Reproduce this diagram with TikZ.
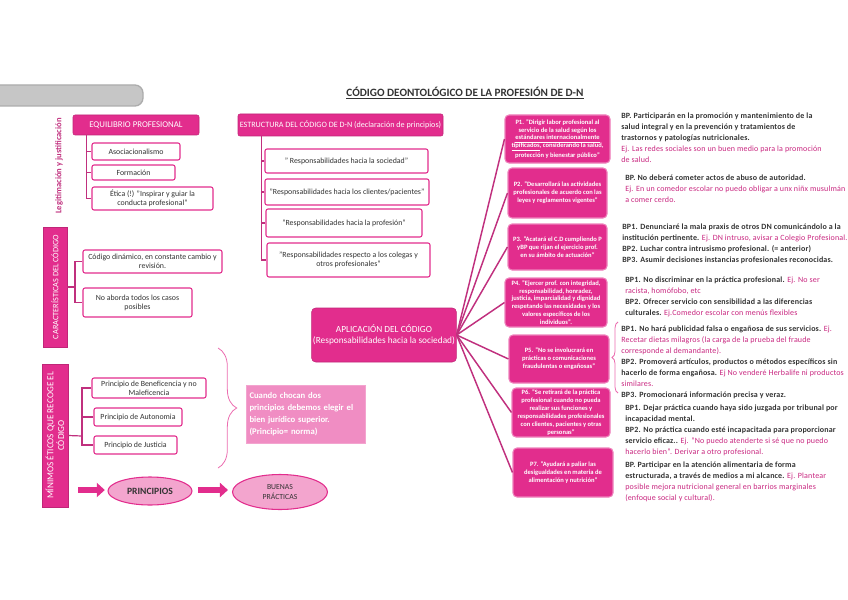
\documentclass[tikz,border=0pt]{standalone}
\usepackage{fontspec}
\setmainfont{Carlito}
\usepackage{tikz}
\usetikzlibrary{shapes.geometric,arrows.meta,decorations.pathreplacing,positioning}
\definecolor{rosa}{HTML}{E22D8D}
\definecolor{rosaosc}{HTML}{C0307E}
\definecolor{rosasuave}{HTML}{F08DC3}
\definecolor{rosaelipse}{HTML}{F3A5CE}
\definecolor{gristexto}{HTML}{333333}
\definecolor{ejrosa}{HTML}{C8267F}
\newcommand{\fs}[2]{\fontsize{#1}{#2}\selectfont}
\newcommand{\ejtxt}[1]{{\mdseries\color{ejrosa}#1}}
\tikzset{sz/.style 2 args={minimum width=#1*0.75pt, minimum height=#2*0.75pt}}

\begin{document}
\begin{tikzpicture}[x=0.75pt,y=-0.75pt]
\tikzstyle{head}=[rectangle, rounded corners=1.5pt, fill=rosa, draw=rosa!85!black, text=white, inner sep=1pt, font=\fs{6.1}{7}]
\tikzstyle{barra}=[head, rounded corners=0pt, align=center, font=\fs{6.2}{7.5}]
\tikzstyle{item}=[rectangle, rounded corners=1.5pt, draw=rosa, thick, fill=white, inner sep=1pt, align=center, text=gristexto, font=\fs{5.9}{6.8}]
\tikzstyle{pbox}=[rectangle, rounded corners=3pt, fill=rosa, draw=rosa!60, thick, text=white, inner sep=1pt, align=center, font=\fs{4.9}{5.9}\bfseries]
\tikzstyle{suave}=[rectangle, fill=rosasuave, draw=rosasuave!80, text=white, inner sep=1pt, align=left, font=\fs{6.5}{9}\bfseries]
\tikzstyle{elipse}=[ellipse, draw=rosa, fill=rosaelipse, thick, inner sep=0pt, align=center, text=gristexto]
\tikzstyle{nota}=[anchor=north west, align=left, inner sep=0pt, text=gristexto, font=\fs{6}{8.25}\bfseries\addfontfeatures{LetterSpace=2}]
\tikzstyle{rama}=[draw=rosaosc, line width=0.9pt]
\tikzstyle{abanico}=[draw=rosaosc, line width=1.1pt]
\tikzstyle{llave}=[draw=rosa!70, line width=0.6pt]
\tikzstyle{flecha}=[draw=rosa, line width=4.5pt, -{Triangle[length=6pt, width=10.5pt]}]

\useasboundingbox (0,0) rectangle (848,599);

  % barra gris y titulo
  \draw[fill=gray!45, draw=gray!65, line width=1pt, rounded corners=6pt] (-10,85) rectangle (143,106);
  \node[text=gristexto, font=\fs{8.4}{9}\bfseries] (titulo) at (465,93) {\underline{CÓDIGO DEONTOLÓGICO DE LA PROFESIÓN DE D-N}};

  % equilibrio profesional
  \node[rotate=90, text=rosaosc, font=\fs{6.4}{7}\bfseries] (legit) at (59,166) {Legitimación y justificación};
  \node[head, sz={126}{20}, font=\fs{6.6}{7}] (equil) at (136,125) {EQUILIBRIO PROFESIONAL};
  \node[item, sz={88}{17}]  (asoc)  at (136,151.5) {Asociacionalismo};
  \node[item, sz={83}{15}]  (form)  at (133.5,172.5) {Formación};
  \node[item, sz={121}{23}] (etica) at (152.5,198.5) {Ética (!) "Inspirar y guiar la\\ conducta profesional"};

  % estructura del codigo
  \node[head, sz={205}{22}] (estr) at (340.5,125) {ESTRUCTURA DEL CÓDIGO DE D-N (declaración de principios)};
  \node[item, sz={163}{24}] (r1) at (346.5,161) {" Responsabilidades hacia la sociedad"};
  \node[item, sz={164}{26}] (r2) at (347,192)   {"Responsabilidades hacia los clientes/pacientes"};
  \node[item, sz={156}{28}] (r3) at (344,223)   {"Responsabilidades hacia la profesión"};
  \node[item, sz={163}{34}] (r4) at (348.5,260) {"Responsabilidades respecto a los colegas y\\ otros profesionales"};

  % caracteristicas
  \node[barra, rotate=90, sz={120}{24}] (carac) at (55,287) {CARACTERÍSTICAS DEL CÓDIGO};
  \node[item, sz={139}{23}] (din)  at (152.5,261.5) {Código dinámico, en constante cambio y\\ revisión.};
  \node[item, sz={109}{29}] (noab) at (137.5,302.5) {No aborda todos los casos\\ posibles};

  % minimos eticos
  \node[barra, rotate=90, sz={143}{26}, font=\fs{6.9}{8}] (minim) at (55,435.5) {MÍNIMOS ÉTICOS QUE RECOGE EL\\ CÓDIGO};
  \node[item, sz={114}{20}] (benef) at (149,388)   {Principio de Beneficencia y no\\ Maleficencia};
  \node[item, sz={88}{18}]  (auton) at (138,417)   {Principio de Autonomia};
  \node[item, sz={83}{18}]  (just)  at (135.5,445) {Principio de Justicia};

  \node[suave, sz={119}{58}, text width=112*0.75pt] (choque) at (305.5,414) {Cuando chocan dos\\ principios debemos elegir el\\ bien jurídico superior.\\ (Principio= norma)};

  \node[elipse, sz={84}{28}, font=\fs{7.2}{8}\bfseries] (princ)  at (150,491) {PRINCIPIOS};
  \node[elipse, sz={95}{35}, font=\fs{5.8}{7.5}]       (buenas) at (280,492) {BUENAS\\ PRÁCTICAS};

  % aplicacion y principios P1-P7
  \node[head, sz={144}{54}, align=center, rounded corners=3pt, font=\fs{7}{8.5}] (aplic) at (384,335) {APLICACIÓN DEL CÓDIGO\\ (Responsabilidades hacia la sociedad)};

  \node[pbox, sz={105}{48}] (p1) at (557.5,139) {P1. "Dirigir labor profesional al\\ servicio de la salud según los\\ \underline{estándares internacionalmente}\\ \underline{tipificados}, considerando la salud,\\ protección y bienestar público"};
  \node[pbox, sz={99}{50}]  (p2) at (557.5,193) {P2. "Desarrollará las actividades\\ profesionales de acuerdo con las\\ leyes y reglamentos vigentes"};
  \node[pbox, sz={99}{46}]  (p3) at (557.5,247) {P3. "Acatará el C.D cumpliendo P\\ yBP que rijan el ejercicio prof.\\ en su ámbito de actuación"};
  \node[pbox, sz={102}{49}] (p4) at (556,302.5) {P4. "Ejercer prof. con integridad,\\ responsabilidad, honradez,\\ justicia, imparcialidad y dignidad\\ respetando las necesidades y los\\ valores específicos de los\\ individuos".};
  \node[pbox, sz={100}{48}] (p5) at (559,359)   {P5. "No se involucrará en\\ prácticas o comunicaciones\\ fraudulentas o engañosas"};
  \node[pbox, sz={98}{49}]  (p6) at (561,412.5) {P6. "Se retirará de la práctica\\ profesional cuando no pueda\\ realizar sus funciones y\\ responsabilidades profesionales\\ con clientes, pacientes y otras\\ personas"};
  \node[pbox, sz={100}{49}] (p7) at (563,472.5) {P7. "Ayudará a paliar las\\ desigualdades en materia de\\ alimentación y nutrición"};

  % buenas practicas
  \node[nota] (n1) at (621,113) {BP. Participarán en la promoción y mantenimiento de la\\ salud integral y en la prevención y tratamientos de\\ trastornos y patologías nutricionales.\\ \ejtxt{Ej. Las redes sociales son un buen medio para la promoción}\\ \ejtxt{de salud.}};
  \node[nota] (n2) at (625,175) {BP. No deberá cometer actos de abuso de autoridad.\\ \ejtxt{Ej. En un comedor escolar no puedo obligar a unx niñx musulmán}\\ \ejtxt{a comer cerdo.}};
  \node[nota] (n3) at (622,224) {BP1. Denunciaré la mala praxis de otros DN comunicándolo a la\\ institución pertinente. \ejtxt{Ej. DN intruso, avisar a Colegio Profesional.}\\ BP2. Luchar contra intrusismo profesional. (= anterior)\\ BP3. Asumir decisiones instancias profesionales reconocidas.};
  \node[nota] (n4) at (625,277) {BP1. No discriminar en la práctica profesional. \ejtxt{Ej. No ser}\\ \ejtxt{racista, homófobo, etc}\\ BP2. Ofrecer servicio con sensibilidad a las diferencias\\ culturales. \ejtxt{Ej.Comedor escolar con menús flexibles}};
  \node[nota] (n5) at (621,326) {BP1. No hará publicidad falsa o engañosa de sus servicios. \ejtxt{Ej.}\\ \ejtxt{Recetar dietas milagros (la carga de la prueba del fraude}\\ \ejtxt{corresponde al demandante).}\\ BP2. Promoverá artículos, productos o métodos específicos sin\\ hacerlo de forma engañosa. \ejtxt{Ej No venderé Herbalife ni productos}\\ \ejtxt{similares.}\\ BP3. Promocionará información precisa y veraz.};
  \node[nota] (n6) at (625,405) {BP1. Dejar práctica cuando haya sido juzgada por tribunal por\\ incapacidad mental.\\ BP2. No práctica cuando esté incapacitada para proporcionar\\ servicio eficaz.. \ejtxt{Ej. "No puedo atenderte si sé que no puedo}\\ \ejtxt{hacerlo bien". Derivar a otro profesional.}};
  \node[nota] (n7) at (625,462) {BP. Participar en la atención alimentaria de forma\\ estructurada, a través de medios a mi alcance. \ejtxt{Ej. Plantear}\\ \ejtxt{posible mejora nutricional general en barrios marginales}\\ \ejtxt{(enfoque social y cultural).}};

  % ramas
  \coordinate (t1) at ([xshift=14*0.75pt]equil.south west);
  \draw[rama] (t1) |- (etica.west);
  \draw[rama] (asoc.west) -- (asoc.west -| t1);
  \draw[rama] (form.west) -- (form.west -| t1);

  \coordinate (t2) at ([xshift=24*0.75pt]estr.south west);
  \draw[rama] (t2) |- (r4.west);
  \draw[rama] (r1.west) -- (r1.west -| t2);
  \draw[rama] (r2.west) -- (r2.west -| t2);
  \draw[rama] (r3.west) -- (r3.west -| t2);

  \coordinate (c2) at (75,287);
  \draw[rama] (carac.south) -- (c2);
  \draw[rama] (din.west) -| (c2) |- (noab.west);

  \coordinate (m2) at (82,436);
  \draw[rama] (minim.south) -- (m2);
  \draw[rama] (benef.west) -| (m2) |- (just.west);
  \draw[rama] (auton.west) -- (auton.west -| m2);

  \foreach \p in {p1,p2,p3,p4,p5,p6,p7}
    \draw[abanico] (aplic.east) -- (\p.west);

  % llaves
  \coordinate (ll1a) at (218,348);
  \coordinate (ll1b) at (218,468);
  \draw[llave, decorate, decoration={brace, amplitude=14pt}] (ll1a) -- (ll1b);
  \coordinate (ll2a) at (618,393);
  \coordinate (ll2b) at (618,322);
  \draw[llave, decorate, decoration={brace, amplitude=4.5pt}] (ll2a) -- (ll2b);

  % flechas
  \coordinate (inicio) at (78,490);
  \draw[flecha, shorten >=2pt] (inicio) -- (princ.west |- inicio);
  \draw[flecha, shorten <=4pt, shorten >=3pt] (princ.east |- inicio) -- (buenas.west |- inicio);

\end{tikzpicture}
\end{document}
